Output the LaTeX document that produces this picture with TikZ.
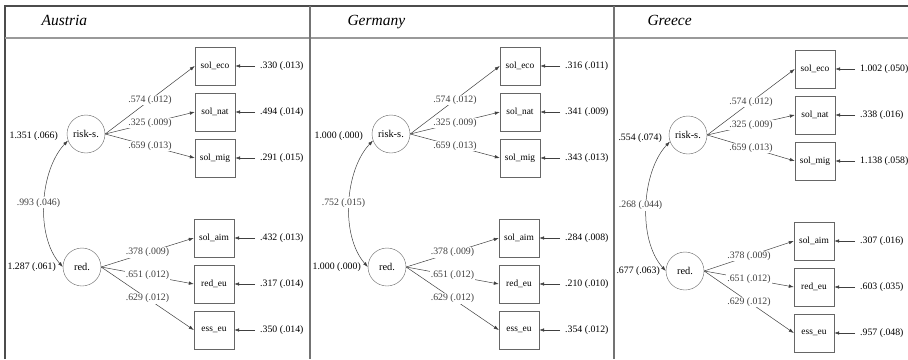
\documentclass[tikz,border=0pt]{standalone}
\usepackage{fontspec}
\setmainfont{Liberation Serif}
\usetikzlibrary{
  arrows.meta,
  positioning
}

\begin{document}
\begin{tikzpicture}[
  x=1pt, y=-1pt,
  font=\fontsize{9.8}{12}\selectfont,
  latent/.style={
    circle, draw=black!60, fill=white,
    minimum size=38pt, inner sep=0pt, font=\fontsize{10.4}{12}\selectfont
  },
  observed/.style={
    rectangle, draw=black!60, fill=white,
    minimum width=40pt, minimum height=38pt, inner sep=0pt,
    font=\fontsize{9.4}{11}\selectfont
  },
  estimate/.style={fill=white, inner sep=1pt},
  resid/.style={anchor=west, inner sep=1pt},
  varlabel/.style={anchor=east, inner sep=1pt},
  title/.style={anchor=base west, font=\fontsize{15.5}{18}\selectfont\itshape},
  load/.style={-{Latex[length=5pt,width=3.5pt]}, black!75, line width=0.5pt},
  cov/.style={{Latex[length=5pt,width=3.5pt]}-{Latex[length=5pt,width=3.5pt]},
    black!75, line width=0.5pt},
]
\useasboundingbox (0,0) rectangle (908,359);

% Table frame
\draw[black!70, line width=1.3pt] (5,359) -- (5,6) -- (908,6);
\draw[black!40, line width=2pt] (5,37.5) -- (908,37.5);
\draw[black!55, line width=1.5pt] (310,6) -- (310,359);
\draw[black!55, line width=1.5pt] (614,6) -- (614,359);

% Country titles
\node[title] (t-at) at (38,25) {Austria};
\node[title] (t-de) at (344,25) {Germany};
\node[title] (t-gr) at (644,25) {Greece};

% Austria
\node[latent] (at-risk) at (86,134) {risk-s.};
\node[latent] (at-red) at (82,267) {red.};
\node[observed] (at-eco) at (215,66) {sol\_eco};
\node[observed] (at-nat) at (215,112) {sol\_nat};
\node[observed] (at-mig) at (215,158) {sol\_mig};
\node[observed] (at-aim) at (214,238) {sol\_aim};
\node[observed] (at-reu) at (214,284) {red\_eu};
\node[observed] (at-ess) at (214,330) {ess\_eu};

\draw[load] (at-risk.east) -- node[estimate] (at-l1) {.574 (.012)} (at-eco.west);
\draw[load] (at-risk.east) -- node[estimate] (at-l2) {.325 (.009)} (at-nat.west);
\draw[load] (at-risk.east) -- node[estimate] (at-l3) {.659 (.013)} (at-mig.west);
\draw[load] (at-red.east) -- node[estimate] (at-l4) {.378 (.009)} (at-aim.west);
\draw[load] (at-red.east) -- node[estimate] (at-l5) {.651 (.012)} (at-reu.west);
\draw[load] (at-red.east) -- node[estimate] (at-l6) {.629 (.012)} (at-ess.west);

\node[resid] (at-e1) at (259,66) {.330 (.013)};
\node[resid] (at-e2) at (259,112) {.494 (.014)};
\node[resid] (at-e3) at (259,158) {.291 (.015)};
\node[resid] (at-e4) at (259,238) {.432 (.013)};
\node[resid] (at-e5) at (259,284) {.317 (.014)};
\node[resid] (at-e6) at (259,330) {.350 (.014)};
\draw[load, shorten <=4pt] (at-e1.west) -- (at-eco.east);
\draw[load, shorten <=4pt] (at-e2.west) -- (at-nat.east);
\draw[load, shorten <=4pt] (at-e3.west) -- (at-mig.east);
\draw[load, shorten <=4pt] (at-e4.west) -- (at-aim.east);
\draw[load, shorten <=4pt] (at-e5.west) -- (at-reu.east);
\draw[load, shorten <=4pt] (at-e6.west) -- (at-ess.east);

\node[varlabel] (at-v1) at (59,136) {1.351 (.066)};
\node[varlabel] (at-v2) at (57,267) {1.287 (.061)};
\draw[cov] (at-red.west) .. controls (35,235) and (40,170) ..
  node[estimate, xshift=-6pt] (at-c) {.993 (.046)} (at-risk.200);

% Germany
\begin{scope}[shift={(305,0)}]
\node[latent] (de-risk) at (86,134) {risk-s.};
\node[latent] (de-red) at (82,267) {red.};
\node[observed] (de-eco) at (215,66) {sol\_eco};
\node[observed] (de-nat) at (215,112) {sol\_nat};
\node[observed] (de-mig) at (215,158) {sol\_mig};
\node[observed] (de-aim) at (214,238) {sol\_aim};
\node[observed] (de-reu) at (214,284) {red\_eu};
\node[observed] (de-ess) at (214,330) {ess\_eu};

\draw[load] (de-risk.east) -- node[estimate] (de-l1) {.574 (.012)} (de-eco.west);
\draw[load] (de-risk.east) -- node[estimate] (de-l2) {.325 (.009)} (de-nat.west);
\draw[load] (de-risk.east) -- node[estimate] (de-l3) {.659 (.013)} (de-mig.west);
\draw[load] (de-red.east) -- node[estimate] (de-l4) {.378 (.009)} (de-aim.west);
\draw[load] (de-red.east) -- node[estimate] (de-l5) {.651 (.012)} (de-reu.west);
\draw[load] (de-red.east) -- node[estimate] (de-l6) {.629 (.012)} (de-ess.west);

\node[resid] (de-e1) at (259,66) {.316 (.011)};
\node[resid] (de-e2) at (259,112) {.341 (.009)};
\node[resid] (de-e3) at (259,158) {.343 (.013)};
\node[resid] (de-e4) at (259,238) {.284 (.008)};
\node[resid] (de-e5) at (259,284) {.210 (.010)};
\node[resid] (de-e6) at (259,330) {.354 (.012)};
\draw[load, shorten <=4pt] (de-e1.west) -- (de-eco.east);
\draw[load, shorten <=4pt] (de-e2.west) -- (de-nat.east);
\draw[load, shorten <=4pt] (de-e3.west) -- (de-mig.east);
\draw[load, shorten <=4pt] (de-e4.west) -- (de-aim.east);
\draw[load, shorten <=4pt] (de-e5.west) -- (de-reu.east);
\draw[load, shorten <=4pt] (de-e6.west) -- (de-ess.east);

\node[varlabel] (de-v1) at (59,136) {1.000 (.000)};
\node[varlabel] (de-v2) at (57,267) {1.000 (.000)};
\draw[cov] (de-red.west) .. controls (35,235) and (40,170) ..
  node[estimate, xshift=-6pt] (de-c) {.752 (.015)} (de-risk.200);
\end{scope}

% Greece
\begin{scope}[shift={(600,3)}]
\node[latent] (gr-risk) at (88,132) {risk-s.};
\node[latent] (gr-red) at (85,268) {red.};
\node[observed] (gr-eco) at (215,66) {sol\_eco};
\node[observed] (gr-nat) at (215,112) {sol\_nat};
\node[observed] (gr-mig) at (215,158) {sol\_mig};
\node[observed] (gr-aim) at (214,238) {sol\_aim};
\node[observed] (gr-reu) at (214,284) {red\_eu};
\node[observed] (gr-ess) at (214,330) {ess\_eu};

\draw[load] (gr-risk.east) -- node[estimate] (gr-l1) {.574 (.012)} (gr-eco.west);
\draw[load] (gr-risk.east) -- node[estimate] (gr-l2) {.325 (.009)} (gr-nat.west);
\draw[load] (gr-risk.east) -- node[estimate] (gr-l3) {.659 (.013)} (gr-mig.west);
\draw[load] (gr-red.east) -- node[estimate] (gr-l4) {.378 (.009)} (gr-aim.west);
\draw[load] (gr-red.east) -- node[estimate] (gr-l5) {.651 (.012)} (gr-reu.west);
\draw[load] (gr-red.east) -- node[estimate] (gr-l6) {.629 (.012)} (gr-ess.west);

\node[resid] (gr-e1) at (259,66) {1.002 (.050)};
\node[resid] (gr-e2) at (259,112) {.338 (.016)};
\node[resid] (gr-e3) at (259,158) {1.138 (.058)};
\node[resid] (gr-e4) at (259,238) {.307 (.016)};
\node[resid] (gr-e5) at (259,284) {.603 (.035)};
\node[resid] (gr-e6) at (259,330) {.957 (.048)};
\draw[load, shorten <=4pt] (gr-e1.west) -- (gr-eco.east);
\draw[load, shorten <=4pt] (gr-e2.west) -- (gr-nat.east);
\draw[load, shorten <=4pt] (gr-e3.west) -- (gr-mig.east);
\draw[load, shorten <=4pt] (gr-e4.west) -- (gr-aim.east);
\draw[load, shorten <=4pt] (gr-e5.west) -- (gr-reu.east);
\draw[load, shorten <=4pt] (gr-e6.west) -- (gr-ess.east);

\node[varlabel] (gr-v1) at (63,135) {.554 (.074)};
\node[varlabel] (gr-v2) at (61,268) {.677 (.063)};
\draw[cov] (gr-red.west) .. controls (37,236) and (42,168) ..
  node[estimate, xshift=-6pt] (gr-c) {.268 (.044)} (gr-risk.200);
\end{scope}

\end{tikzpicture}
\end{document}
